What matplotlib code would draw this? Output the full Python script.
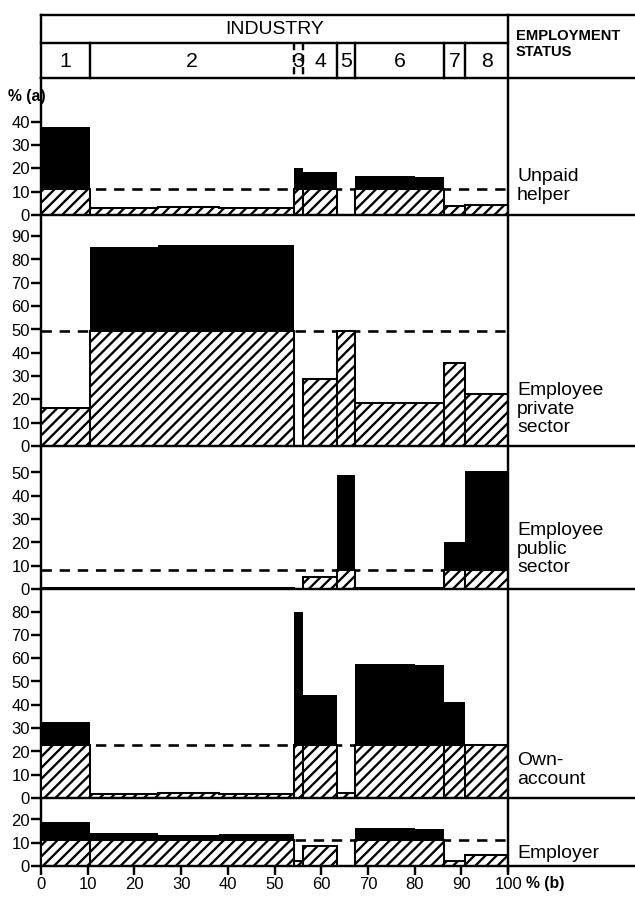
import numpy as np
import matplotlib.pyplot as plt

plt.rcParams['font.family'] = ['Liberation Sans', 'DejaVu Sans']
plt.rcParams['hatch.linewidth'] = 1.25

# industry boundaries along the horizontal axis, % of all workers (b)
ind_edges = [0, 10.5, 54.1, 56.1, 63.4, 67.2, 86.2, 90.8, 100]
ind_labels = ['1', '2', '3', '4', '5', '6', '7', '8']
# industries 2 and 6 are made up of several sub-groups
sub_splits = [25, 38, 80]
seg_edges = sorted(ind_edges + sub_splits)

status_labels = ['Unpaid\nhelper', 'Employee\nprivate\nsector',
                 'Employee\npublic\nsector', 'Own-\naccount', 'Employer']
averages = [11.2, 49.2, 8.0, 22.8, 11.3]

# share of each status within each segment, % (a)
unpaid_helper = [37.5, 3.0, 3.4, 3.1, 20.3, 18.2, 0.0, 16.7, 16.3, 3.6, 4.3]
employee_private = [16.3, 85.3, 86.0, 86.0, 0.0, 28.9, 49.5, 18.6, 18.6, 35.7, 22.4]
employee_public = [0.3, 0.4, 0.3, 0.4, 0.0, 5.3, 48.7, 0.3, 0.3, 20.3, 50.8]
own_account = [32.7, 1.8, 2.2, 1.9, 80.0, 44.0, 2.1, 57.6, 57.2, 41.3, 22.8]
employer = [18.7, 14.1, 13.4, 13.7, 2.1, 8.7, 0.0, 16.2, 15.8, 2.1, 4.6]
series = [unpaid_helper, employee_private, employee_public, own_account, employer]
yticks_max = [40, 90, 50, 80, 20]

DPI = 400 / 3
W, H = 635, 897
x0_px, x100_px = 41, 508
px_per_pct = (x100_px - x0_px) / 100
bounds = [78, 215, 446, 589, 798, 866]
px_per_unit = 2.33
LW = 1.3

fig = plt.figure(figsize=((W + 0.2) / DPI, (H + 0.2) / DPI), dpi=DPI)
fig.patch.set_facecolor('white')

seg_edges = np.array(seg_edges, dtype=float)
axes = []
for k, (top, bot) in enumerate(zip(bounds[:-1], bounds[1:])):
    ax = fig.add_axes([x0_px / W, 1 - bot / H, (x100_px - x0_px) / W, (bot - top) / H])
    vals = np.array(series[k])
    avg = averages[k]
    ax.axhline(avg, color='k', lw=1.4, ls=(0, (4, 3)), zorder=1)
    for lo, hi in zip(ind_edges[:-1], ind_edges[1:]):
        idx = np.where((seg_edges[:-1] >= lo) & (seg_edges[1:] <= hi))[0]
        edges = seg_edges[idx[0]:idx[-1] + 2]
        v = vals[idx]
        if np.any(v > avg):
            ax.stairs(np.maximum(v, avg), edges, baseline=avg, fill=True,
                      color='black', lw=0, zorder=2)
        ax.stairs(np.minimum(v, avg), edges, baseline=0, fill=True,
                  facecolor='white', edgecolor='black', hatch='////',
                  lw=1.1, zorder=3)
    ax.set_xlim(0, 100)
    ax.set_ylim(0, (bot - top) / px_per_unit)
    ax.set_yticks(np.arange(0, yticks_max[k] + 1, 10))
    for s in ['top', 'right', 'bottom']:
        ax.spines[s].set_visible(False)
    ax.spines['left'].set_linewidth(LW)
    ax.tick_params(axis='y', direction='out', length=5.5, width=LW,
                   labelsize=9, pad=0.5)
    if k < 4:
        ax.tick_params(axis='x', bottom=False, labelbottom=False)
    else:
        ax.set_xticks(np.arange(0, 101, 10))
        ax.tick_params(axis='x', direction='out', length=5, width=LW,
                       labelsize=9, pad=1)
    ax.patch.set_alpha(0)
    axes.append(ax)

# frame, header and row labels, drawn in pixel rows over the panels
ov = fig.add_axes([0, 0, 1, 1])
ov.set_xlim(-x0_px / px_per_pct, (W - x0_px) / px_per_pct)
ov.set_ylim(H, 0)
ov.axis('off')
xr = (W - x0_px) / px_per_pct

ov.plot([0, xr], [15, 15], color='k', lw=LW)
ov.plot([0, 100], [43, 43], color='k', lw=LW)
for y in bounds:
    ov.plot([0, xr], [y, y], color='k', lw=LW)
ov.plot([0, 0], [15, bounds[0]], color='k', lw=LW)
ov.plot([100, 100], [15, bounds[-1] + 5], color='k', lw=LW)

for i, e in enumerate(ind_edges[1:-1], start=1):
    dashed = i in (2, 3)
    ov.plot([e, e], [43, bounds[0]], color='k', lw=LW,
            ls=(0, (3, 2)) if dashed else '-')
for lo, hi, lab in zip(ind_edges[:-1], ind_edges[1:], ind_labels):
    ov.text((lo + hi) / 2, 61, lab, ha='center', va='center', fontsize=11.5)

ov.text(50, 29, 'INDUSTRY', ha='center', va='center', fontsize=10.5)
ov.text(101.6, 44, 'EMPLOYMENT\nSTATUS', ha='left', va='center',
        fontsize=8, fontweight='bold', linespacing=1.2)
ov.text(-7.1, 96, '% (a)', ha='left', va='center', fontsize=8.5,
        fontweight='bold')
ov.text(103.8, 883, '% (b)', ha='left', va='center', fontsize=8.5,
        fontweight='bold')

label_rows = [186, 409, 549, 770, 853]
for lab, y in zip(status_labels, label_rows):
    ov.text(101.9, y, lab, ha='left', va='center', fontsize=10.5,
            linespacing=1.12)

fig.savefig('out.png', dpi=DPI, facecolor='white')
